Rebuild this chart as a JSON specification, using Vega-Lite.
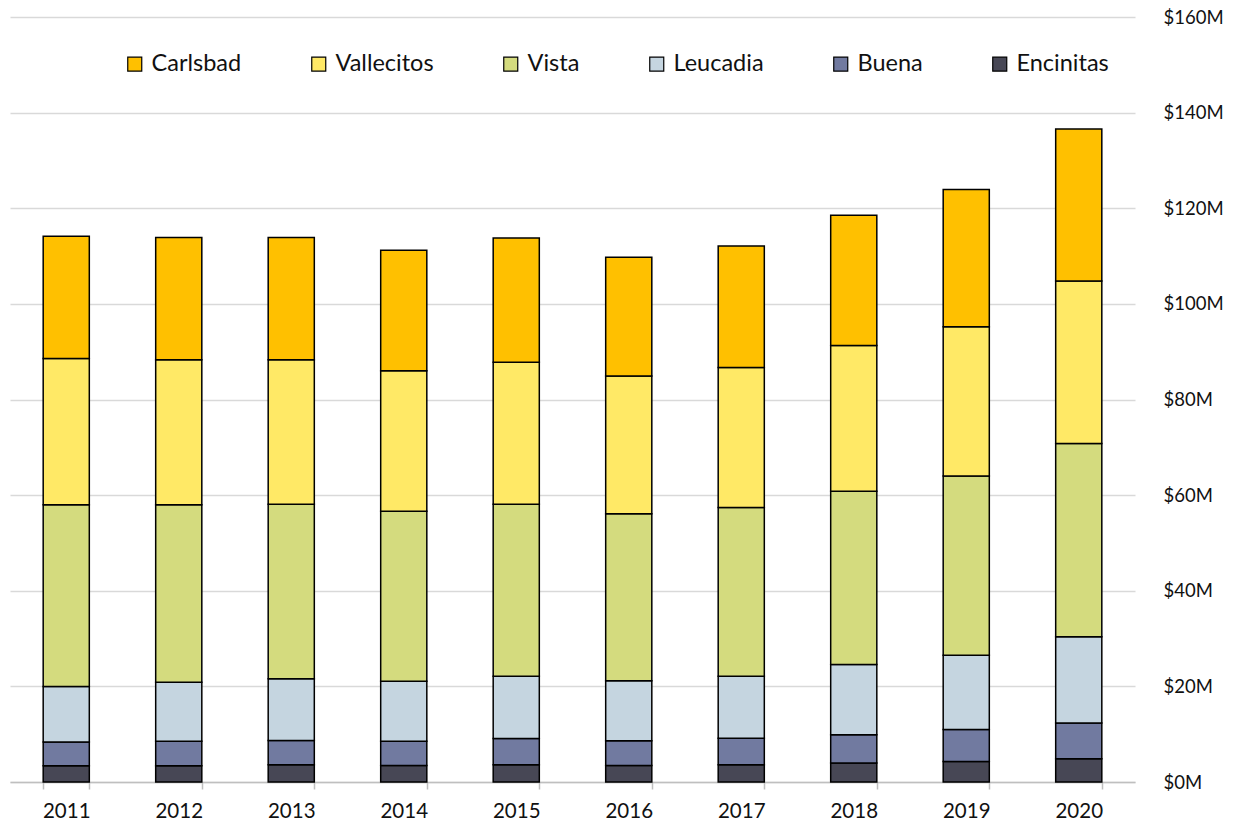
{
  "$schema": "https://vega.github.io/schema/vega-lite/v6.json",
  "width": 1125,
  "height": 765,
  "padding": {"left": 10, "top": 8, "right": 5, "bottom": 5},
  "background": "white",
  "config": {
    "view": {"stroke": null},
    "font": "Lato",
    "axis": {"labelFont": "Lato", "labelColor": "#111111"},
    "legend": {"labelFont": "Lato"}
  },
  "data": {
    "values": [
      {"year": "2011", "region": "Encinitas", "value": 3.4},
      {"year": "2011", "region": "Buena", "value": 4.95},
      {"year": "2011", "region": "Leucadia", "value": 11.65},
      {"year": "2011", "region": "Vista", "value": 38.0},
      {"year": "2011", "region": "Vallecitos", "value": 30.6},
      {"year": "2011", "region": "Carlsbad", "value": 25.55},
      {"year": "2012", "region": "Encinitas", "value": 3.4},
      {"year": "2012", "region": "Buena", "value": 5.1},
      {"year": "2012", "region": "Leucadia", "value": 12.35},
      {"year": "2012", "region": "Vista", "value": 37.15},
      {"year": "2012", "region": "Vallecitos", "value": 30.3},
      {"year": "2012", "region": "Carlsbad", "value": 25.6},
      {"year": "2013", "region": "Encinitas", "value": 3.6},
      {"year": "2013", "region": "Buena", "value": 5.1},
      {"year": "2013", "region": "Leucadia", "value": 12.9},
      {"year": "2013", "region": "Vista", "value": 36.5},
      {"year": "2013", "region": "Vallecitos", "value": 30.2},
      {"year": "2013", "region": "Carlsbad", "value": 25.6},
      {"year": "2014", "region": "Encinitas", "value": 3.45},
      {"year": "2014", "region": "Buena", "value": 5.05},
      {"year": "2014", "region": "Leucadia", "value": 12.55},
      {"year": "2014", "region": "Vista", "value": 35.6},
      {"year": "2014", "region": "Vallecitos", "value": 29.35},
      {"year": "2014", "region": "Carlsbad", "value": 25.2},
      {"year": "2015", "region": "Encinitas", "value": 3.6},
      {"year": "2015", "region": "Buena", "value": 5.5},
      {"year": "2015", "region": "Leucadia", "value": 13.0},
      {"year": "2015", "region": "Vista", "value": 36.0},
      {"year": "2015", "region": "Vallecitos", "value": 29.7},
      {"year": "2015", "region": "Carlsbad", "value": 26.0},
      {"year": "2016", "region": "Encinitas", "value": 3.46},
      {"year": "2016", "region": "Buena", "value": 5.19},
      {"year": "2016", "region": "Leucadia", "value": 12.55},
      {"year": "2016", "region": "Vista", "value": 34.9},
      {"year": "2016", "region": "Vallecitos", "value": 28.8},
      {"year": "2016", "region": "Carlsbad", "value": 24.85},
      {"year": "2017", "region": "Encinitas", "value": 3.6},
      {"year": "2017", "region": "Buena", "value": 5.55},
      {"year": "2017", "region": "Leucadia", "value": 12.95},
      {"year": "2017", "region": "Vista", "value": 35.3},
      {"year": "2017", "region": "Vallecitos", "value": 29.3},
      {"year": "2017", "region": "Carlsbad", "value": 25.4},
      {"year": "2018", "region": "Encinitas", "value": 3.95},
      {"year": "2018", "region": "Buena", "value": 5.95},
      {"year": "2018", "region": "Leucadia", "value": 14.7},
      {"year": "2018", "region": "Vista", "value": 36.2},
      {"year": "2018", "region": "Vallecitos", "value": 30.5},
      {"year": "2018", "region": "Carlsbad", "value": 27.25},
      {"year": "2019", "region": "Encinitas", "value": 4.3},
      {"year": "2019", "region": "Buena", "value": 6.7},
      {"year": "2019", "region": "Leucadia", "value": 15.5},
      {"year": "2019", "region": "Vista", "value": 37.5},
      {"year": "2019", "region": "Vallecitos", "value": 31.2},
      {"year": "2019", "region": "Carlsbad", "value": 28.7},
      {"year": "2020", "region": "Encinitas", "value": 4.85},
      {"year": "2020", "region": "Buena", "value": 7.5},
      {"year": "2020", "region": "Leucadia", "value": 18.05},
      {"year": "2020", "region": "Vista", "value": 40.4},
      {"year": "2020", "region": "Vallecitos", "value": 34.0},
      {"year": "2020", "region": "Carlsbad", "value": 31.75}
    ]
  },
  "transform": [
    {"calculate": "indexof(['Encinitas','Buena','Leucadia','Vista','Vallecitos','Carlsbad'], datum.region)", "as": "stackOrder"}
  ],
  "mark": {"type": "bar", "stroke": "#000000", "strokeWidth": 1.5},
  "encoding": {
    "x": {
      "field": "year",
      "type": "ordinal",
      "scale": {"paddingInner": 0.59, "paddingOuter": 0.295},
      "axis": {
        "title": null,
        "labelAngle": 0,
        "labelFontSize": 20.5,
        "labelPadding": 12,
        "domainColor": "#bfbfbf",
        "domainWidth": 1.5,
        "tickColor": "#bfbfbf",
        "tickWidth": 1.5,
        "tickSize": 7,
        "tickBand": "extent",
        "grid": false
      }
    },
    "y": {
      "field": "value",
      "type": "quantitative",
      "aggregate": "sum",
      "stack": "zero",
      "scale": {"domain": [0, 160], "nice": false},
      "axis": {
        "orient": "right",
        "title": null,
        "values": [0, 20, 40, 60, 80, 100, 120, 140, 160],
        "labelExpr": "'$' + datum.value + 'M'",
        "labelFontSize": 18.5,
        "labelPadding": 28,
        "ticks": false,
        "tickSize": 0,
        "domain": false,
        "grid": true,
        "gridColor": "#d9d9d9",
        "gridWidth": 1.5
      }
    },
    "color": {
      "field": "region",
      "type": "nominal",
      "scale": {
        "domain": ["Carlsbad", "Vallecitos", "Vista", "Leucadia", "Buena", "Encinitas"],
        "range": ["#FFC000", "#FFE966", "#D4DB7E", "#C5D5E0", "#717AA0", "#474755"]
      },
      "legend": {
        "title": null,
        "orient": "none",
        "legendX": 113,
        "legendY": 35,
        "direction": "horizontal",
        "columns": 6,
        "columnPadding": 65,
        "padding": 0,
        "symbolType": "square",
        "symbolSize": 196,
        "symbolStrokeColor": "#000000",
        "symbolStrokeWidth": 1.2,
        "symbolOpacity": 1,
        "labelFontSize": 23.5,
        "labelOffset": 5,
        "labelColor": "#111111"
      }
    },
    "order": {"field": "stackOrder", "type": "quantitative", "sort": "ascending"}
  }
}
